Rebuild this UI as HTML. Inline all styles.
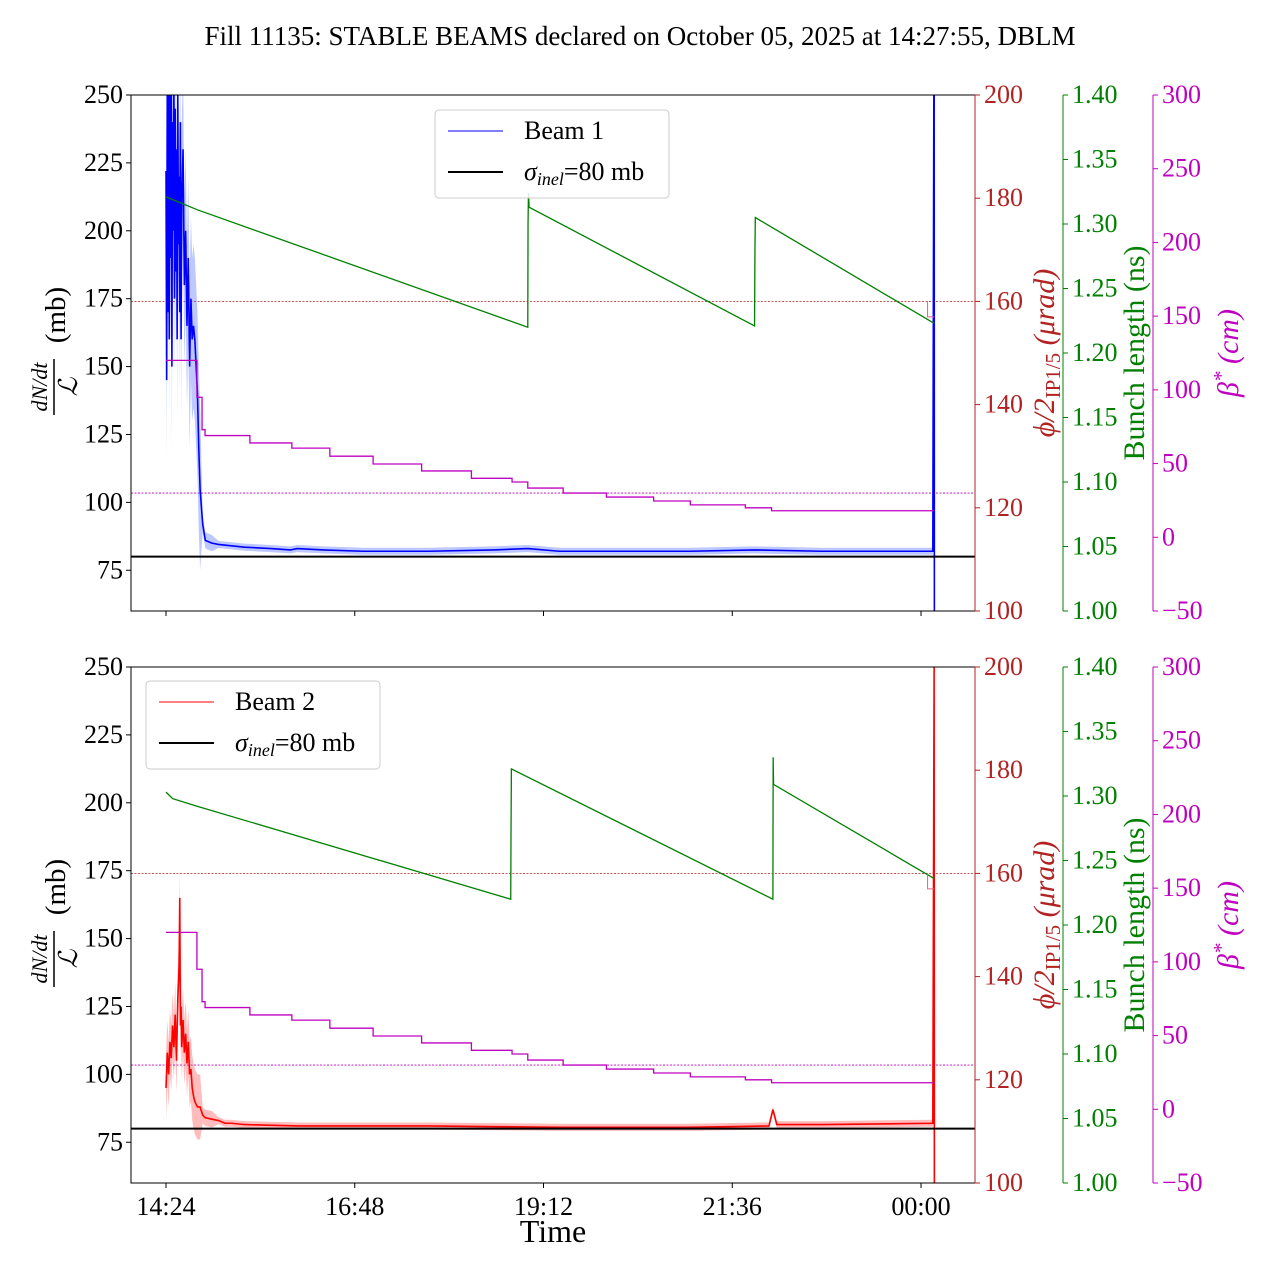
<!DOCTYPE html>
<html><head><meta charset="utf-8"><style>
html,body{margin:0;padding:0;background:#fff;}
svg{display:block;font-family:"Liberation Serif",serif;}
</style></head><body>
<svg id="c" width="1280" height="1280" viewBox="0 0 1280 1280" xmlns="http://www.w3.org/2000/svg">
<text x="640" y="45" font-size="27" text-anchor="middle">Fill 11135: STABLE BEAMS declared on October 05, 2025 at 14:27:55, DBLM</text>
</svg>
<script>
// ---- data (time in minutes since 14:24) ----
const timeTickLabels = ["14:24","16:48","19:12","21:36","00:00"];
const timeTickMinutes = [0,144,288,432,576];
const leftTicks = [75,100,125,150,175,200,225,250];
const redTicks = [100,120,140,160,180,200];
const greenTicks = [1.00,1.05,1.10,1.15,1.20,1.25,1.30,1.35,1.40];
const magTicks = [-50,0,50,100,150,200,250,300];

const b1T = [0,0.5,1,1.5,2,2.5,3,3.5,4,4.5,5,5.5,6,6.5,7,7.5,8,8.5,9,9.5,10,10.5,11,11.5,12,13,14,15,16,17,18,19,20,21,22,23,24,25,26,28,30,35,40,50,60,80,95,100,120,150,200,250,276,300,350,400,449,500,550,585,586,586.2];
const b1V = [222,145,260,170,255,160,270,190,250,150,240,200,265,175,245,185,230,160,250,195,220,170,240,160,210,230,180,200,165,190,150,175,160,165,160,150,140,120,105,92,86,85,84.5,84,83.5,83,82.5,83,82.5,82,82,82.5,83,82,82,82,82.5,82,82,82,300,40];
const r2T = [0,1,2,3,4,5,6,7,8,9,10,10.5,11,11.5,12,13,14,15,16,17,18,19,20,21,22,24,26,28,30,35,40,45,50,60,100,200,300,400,460,463,466,500,585,586,586.2];
const r2V = [95,108,100,112,106,118,110,122,105,128,140,165,118,125,110,120,108,115,104,112,100,102,95,92,90,88,88,85,84,83.5,83,82,82,81.5,81,81,80.5,80.5,81,87,81.5,81.5,82,250,40];

const g1T = [0,24,276,276.2,276.5,277,449,449.3,449.6,586];
const g1V = [1.321,1.311,1.220,1.30,1.324,1.313,1.221,1.28,1.305,1.223];
const g2T = [0,5,24,263,263.2,263.5,463,463.2,463.5,586];
const g2V = [1.303,1.298,1.292,1.220,1.27,1.321,1.220,1.33,1.309,1.236];

const m1T = [0,23.6,27.5,29.8,64,96,125,158,195,233,264,276,303,336,372,400,442,462,586];
const m1V = [120,95,73,69,64,60.5,55,49.7,45,40,37.5,33.4,30,27.3,24.6,22,20,18,18];
const m2T = [0,23.6,27.5,29.8,64,96,125,158,195,233,264,276,303,336,372,400,442,462,586];
const m2V = [120,95,73,69,64,60.5,55,49.7,45,40,37.5,33.4,30,27.3,24.6,22,20,18,18];

const xingT = [581,581,586];
const xingV = [160,157,157];
const sigmaInel = 80;
const refRed = 160;
const refMag = 30;

// ---- scales ----
const NS="http://www.w3.org/2000/svg";
const svg=document.getElementById('c');
const X0=131,X1=975,H=516;
const X=t=>166+t*1.3108;
function mk(tag,attrs,parent){const e=document.createElementNS(NS,tag);for(const k in attrs)e.setAttribute(k,attrs[k]);(parent||svg).appendChild(e);return e;}
const RED="#b22222",GRN="#008000",MAG="#c000c0";

function panel(top,idx,main,mainT,mainV,mainColor,bandColor,noiseSpread,gT,gV,mT,mV,legendLabel,legX,legY,showLabels){
  const yL=v=>top+(250-v)/190*H, yR=v=>top+(200-v)/100*H, yG=v=>top+(1.4-v)/0.4*H, yM=v=>top+(300-v)/350*H;
  const g=mk('g',{});  
  const cid='clip'+idx;
  const cp=mk('clipPath',{id:cid},g); mk('rect',{x:X0,y:top,width:X1-X0,height:H},cp);
  const pg=mk('g',{'clip-path':'url(#'+cid+')'},g);
  let l=mk('line',{x1:X0,x2:X1,y1:yR(refRed),y2:yR(refRed),stroke:RED,'stroke-width':0.8,'stroke-dasharray':'2,1.5'},pg);
   
  l=mk('line',{x1:X0,x2:X1,y1:yM(refMag),y2:yM(refMag),stroke:MAG,'stroke-width':0.8,'stroke-dasharray':'2,1.5'},pg);
   
  let up=[],dn=[];
  mainT.forEach((t,i)=>{const s=t<27?noiseSpread:(t<40?3:1.3);up.push(X(t)+','+yL(mainV[i]+s));dn.unshift(X(t)+','+yL(mainV[i]-s));});
  const band=mk('polygon',{points:up.concat(dn).join(' '),fill:bandColor,'fill-opacity':0.35,stroke:'none'},pg);
   
  const line=mk('polyline',{points:mainT.map((t,i)=>X(t)+','+yL(mainV[i])).join(' '),fill:'none',stroke:mainColor,'stroke-width':1.6},pg);
   
  const gl=mk('polyline',{points:gT.map((t,i)=>X(t)+','+yG(gV[i])).join(' '),fill:'none',stroke:GRN,'stroke-width':1.3},pg);
   
  let pts=[];
  mT.forEach((t,i)=>{ if(i>0) pts.push(X(t)+','+yM(mV[i-1])); pts.push(X(t)+','+yM(mV[i])); });
  const ml=mk('polyline',{points:pts.join(' '),fill:'none',stroke:MAG,'stroke-width':1.3},pg);
   
  const xl=mk('polyline',{points:xingT.map((t,i)=>X(t)+','+yR(xingV[i])).join(' '),fill:'none',stroke:'#e06080','stroke-width':1},pg);
   
  const sl=mk('line',{x1:X0,x2:X1,y1:yL(sigmaInel),y2:yL(sigmaInel),stroke:'#000','stroke-width':2},pg);
   
  const fr=mk('rect',{x:X0,y:top,width:X1-X0,height:H,fill:'none',stroke:'#000','stroke-width':1},g);
   
  leftTicks.forEach(v=>{const y=yL(v);mk('line',{x1:X0-5,x2:X0,y1:y,y2:y,stroke:'#000'},g);
    const t=mk('text',{x:X0-8,y:y+8,'font-size':26,'text-anchor':'end'},g);t.textContent=v;
     });
  const axes=[[975,redTicks,yR,RED,v=>v,'red-axis'],[1063,greenTicks,yG,GRN,v=>v.toFixed(2),'green-axis'],[1153,magTicks,yM,MAG,v=>v<0?'\u2212'+(-v):v,'magenta-axis']];
  axes.forEach(([ax,ticks,sc,col,fmt,nm])=>{
    const a=mk('line',{x1:ax,x2:ax,y1:top,y2:top+H,stroke:col,'stroke-width':1},g);
     
    ticks.forEach(v=>{const y=sc(v);mk('line',{x1:ax,x2:ax+5,y1:y,y2:y,stroke:col},g);
      const t=mk('text',{x:ax+9,y:y+8,'font-size':26,fill:col},g);t.textContent=fmt(v);
       });
  });
  timeTickMinutes.forEach((m,i)=>{const x=X(m);mk('line',{x1:x,x2:x,y1:top+H,y2:top+H+5,stroke:'#000'},g);
    if(showLabels){const t=mk('text',{x:x,y:top+H+32,'font-size':26,'text-anchor':'middle'},g);t.textContent=timeTickLabels[i];
       }});
  const cy=top+258;
  const yl=mk('g',{transform:`translate(55,${cy}) rotate(-90)`},g);
   
  let t=mk('text',{x:-34,y:-8,'font-size':22,'font-style':'italic','text-anchor':'middle'},yl);t.textContent='dN/dt';
  mk('line',{x1:-62,x2:-6,y1:-1,y2:-1,stroke:'#000','stroke-width':1.5},yl);
  t=mk('text',{x:-34,y:22,'font-size':26,'font-style':'italic','text-anchor':'middle'},yl);t.textContent='\u2112';
  t=mk('text',{x:38,y:10,'font-size':29,'text-anchor':'middle'},yl);t.textContent='(mb)';
  const rl=mk('text',{transform:`translate(1054,${cy}) rotate(-90)`,'font-size':30,fill:RED,'text-anchor':'middle'},g);
   
  rl.innerHTML='<tspan font-style="italic">\u03d5/2</tspan><tspan font-size="21" dy="6">IP1/5</tspan><tspan dy="-6" font-style="italic"> (\u03bcrad)</tspan>';
  const gl2=mk('text',{transform:`translate(1144,${cy}) rotate(-90)`,'font-size':30,fill:GRN,'text-anchor':'middle'},g);
  gl2.textContent='Bunch length (ns)';  
  const bl=mk('text',{transform:`translate(1238,${cy}) rotate(-90)`,'font-size':30,fill:MAG,'text-anchor':'middle','font-style':'italic'},g);
  bl.innerHTML='\u03b2<tspan dy="-10" font-size="21">*</tspan><tspan dy="10"> (cm)</tspan>';
   
  const lg=mk('g',{},g);  
  mk('rect',{x:legX,y:legY,width:234,height:88,rx:4,fill:'#fff','fill-opacity':0.85,stroke:'#cccccc'},lg);
  mk('line',{x1:legX+13,x2:legX+68,y1:legY+21,y2:legY+21,stroke:mainColor,'stroke-width':1},lg);
  t=mk('text',{x:legX+89,y:legY+29,'font-size':26},lg);t.textContent=legendLabel;
   
  mk('line',{x1:legX+13,x2:legX+68,y1:legY+62,y2:legY+62,stroke:'#000','stroke-width':2},lg);
  t=mk('text',{x:legX+89,y:legY+70,'font-size':26},lg);
  t.innerHTML='<tspan font-style="italic">\u03c3</tspan><tspan font-style="italic" font-size="18" dy="5">inel</tspan><tspan dy="-5">=80 mb</tspan>';
   
}
panel(95,1,'beam-1',b1T,b1V,'#0000ff','#4060ff',30,g1T,g1V,m1T,m1V,'Beam 1',435,110,false);
panel(667,2,'beam-2',r2T,r2V,'#ff0000','#ff4040',12,g2T,g2V,m2T,m2V,'Beam 2',146,681,true);
const xt=mk('text',{x:553,y:1242,'font-size':32,'text-anchor':'middle'});
xt.textContent='Time';


</script>
</body></html>
